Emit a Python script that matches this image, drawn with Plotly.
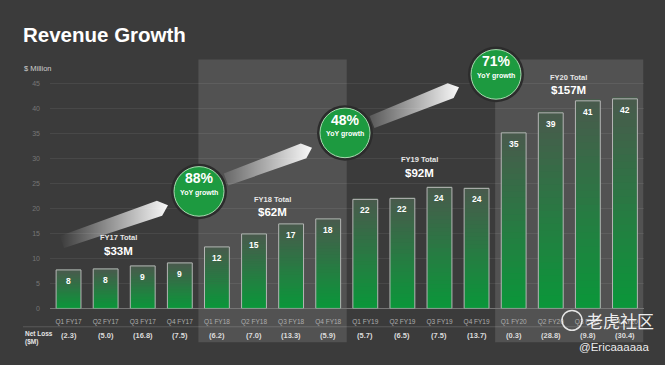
import numpy as np
import plotly.graph_objects as go

# ---------------- data ----------------
quarters = ["Q1 FY17", "Q2 FY17", "Q3 FY17", "Q4 FY17",
            "Q1 FY18", "Q2 FY18", "Q3 FY18", "Q4 FY18",
            "Q1 FY19", "Q2 FY19", "Q3 FY19", "Q4 FY19",
            "Q1 FY20", "Q2 FY20", "Q3 FY20", "Q4 FY20"]
revenue = [7.7, 7.9, 8.5, 9.1, 12.3, 14.9, 16.9, 17.9,
           21.8, 22.0, 24.2, 24.0, 35.1, 39.1, 41.5, 41.9]
revenue_labels = ["8", "8", "9", "9", "12", "15", "17", "18",
                  "22", "22", "24", "24", "35", "39", "41", "42"]
net_loss = ["(2.3)", "(5.0)", "(16.8)", "(7.5)", "(6.2)", "(7.0)", "(13.3)", "(5.9)",
            "(5.7)", "(6.5)", "(7.5)", "(13.7)", "(0.3)", "(28.8)", "(9.8)", "(30.4)"]
fy_names = ["FY17 Total", "FY18 Total", "FY19 Total", "FY20 Total"]
fy_totals = ["$33M", "$62M", "$92M", "$157M"]
yoy_growth = ["88%", "48%", "71%"]
y_ticks = [0, 5, 10, 15, 20, 25, 30, 35, 40, 45]

# ---------------- helpers ----------------
W, H = 665, 365
BG = "#3b3b3b"
SHADE = "#525252"
FONT = "Liberation Sans, Arial, Helvetica, sans-serif"


def PX(x):
    return x / W


def PY(y):
    return 1 - y / H


def note(x, y, text, size, color="white", xanchor="center", yanchor="middle", **kw):
    d = dict(x=PX(x), y=PY(y), xref="paper", yref="paper", text=text, showarrow=False,
             xanchor=xanchor, yanchor=yanchor, font=dict(size=size, color=color, family=kw.pop("family", FONT)))
    d.update(kw)
    return d


fig = go.Figure()

# gradient bars: stacked opaque slices from bright green (bottom) to grey-green (top)
N = 30
bot = np.array([10, 152, 58])
top = np.array([74, 90, 77])
vals = np.array(revenue)
for k in range(N):
    t = (k + 0.5) / N
    c = bot + (top - bot) * t
    fig.add_trace(go.Bar(
        x=quarters, y=vals / N * 1.25, base=vals * k / N,
        marker=dict(color=f"rgb({int(c[0])},{int(c[1])},{int(c[2])})", line=dict(width=0)),
        width=0.67, hoverinfo="skip", showlegend=False))

# outline bars (drawn over the gradient slices)
fig.add_trace(go.Bar(
    x=quarters, y=revenue,
    marker=dict(color="rgba(0,0,0,0)", line=dict(color="#b5b5b5", width=1)),
    width=0.67, showlegend=False))

# ---------------- arrows (pixel axes) ----------------
arrows = [((62, 244), (168, 207), 0.0), ((226, 181), (312, 149), 0.12), ((372, 123), (459, 88), 0.15)]
for (x0, y0), (x1, y1), a0 in arrows:
    u = np.array([x1 - x0, y1 - y0], float)
    u /= np.linalg.norm(u)
    n = np.array([-u[1], u[0]])
    t, hl = 13.0, 9.0
    p0 = np.array([x0, y0])
    p1 = np.array([x1, y1])
    hb = p1 - u * hl
    pts = [p0 + n * t / 2, hb + n * (t / 2 + 1.5), p1, hb - n * (t / 2 + 1.5), p0 - n * t / 2, p0 + n * t / 2]
    fig.add_trace(go.Scatter(
        x=[p[0] for p in pts], y=[p[1] for p in pts], xaxis="x2", yaxis="y2",
        mode="lines", line=dict(width=0), fill="toself",
        fillgradient=dict(type="horizontal",
                          colorscale=[[0, f"rgba(255,255,255,{a0})"], [1, "rgba(255,255,255,0.97)"]]),
        hoverinfo="skip", showlegend=False))

shapes = []
# shaded fiscal-year panels
for xa, xb in [(3.5, 7.5), (11.5, 15.5)]:
    shapes.append(dict(type="rect", xref="x", yref="paper", x0=xa, x1=xb,
                       y0=PY(345), y1=PY(60), fillcolor=SHADE, line=dict(width=0), layer="below"))
# separator line between quarter labels and net loss row
shapes.append(dict(type="line", xref="paper", yref="paper", x0=PX(23), x1=PX(643),
                   y0=PY(329.5), y1=PY(329.5), line=dict(color="rgba(255,255,255,0.16)", width=1)))

# YoY circles
circles = [(199, 193), (345, 134), (496, 75)]
annotations = []
for (cx, cy), g in zip(circles, yoy_growth):
    R = 28
    shapes.append(dict(type="circle", xref="paper", yref="paper",
                       x0=PX(cx - R), x1=PX(cx + R), y0=PY(cy + R), y1=PY(cy - R),
                       fillcolor="#2c2c2c", line=dict(width=0)))
    r = 25
    shapes.append(dict(type="circle", xref="paper", yref="paper",
                       x0=PX(cx - r), x1=PX(cx + r), y0=PY(cy + r), y1=PY(cy - r),
                       fillcolor="#1d9a40", line=dict(color="#a8dcb0", width=1)))
    annotations.append(note(cx, cy - 4, f"<b>{g}</b>", 14, yanchor="bottom", borderpad=0))
    annotations.append(note(cx, cy - 3.5, "<b>YoY growth</b>", 7, yanchor="top", borderpad=0))

# FY totals
total_pos = [(118, 246), (272, 207), (419, 167), (568, 84)]
for (tx, ty), nm, tot in zip(total_pos, fy_names, fy_totals):
    annotations.append(note(tx, ty - 0.5, f"<b>{nm}</b>", 7.5, "#e6e6e6", yanchor="bottom", borderpad=0))
    annotations.append(note(tx, ty, f"<b>{tot}</b>", 11.5, yanchor="top", borderpad=0))

# bar value labels
for q, v, lb in zip(quarters, revenue, revenue_labels):
    annotations.append(dict(x=q, y=v, xref="x", yref="y", text=f"<b>{lb}</b>", yshift=-11,
                            xanchor="center", yanchor="middle",
                            showarrow=False, font=dict(size=8.5, color="white", family=FONT)))

# net loss row
for q, nl in zip(quarters, net_loss):
    annotations.append(dict(x=q, y=PY(338), xref="x", yref="paper", text=f"<b>{nl}</b>",
                            xanchor="center", yanchor="middle", borderpad=0,
                            showarrow=False, font=dict(size=7.5, color="#dcdcdc", family=FONT)))
annotations.append(note(23, 341, "<b>Net Loss<br>($M)</b>", 6.5, "#e6e6e6", xanchor="left", align="left"))

# title and unit
annotations.append(note(21, 35, "<b>Revenue Growth</b>", 20.5, xanchor="left"))
annotations.append(note(22, 69, "$ Million", 7.5, "#cfcfcf", xanchor="left"))

# watermark
shapes.append(dict(type="circle", xref="paper", yref="paper", x0=PX(562), x1=PX(582),
                   y0=PY(333), y1=PY(313), line=dict(color="rgba(255,255,255,0.85)", width=1.5)))
annotations.append(note(585, 323, "老虎社区", 17, "rgba(255,255,255,0.92)", xanchor="left",
                        family="Noto Sans CJK SC", borderpad=0))
annotations.append(note(578, 350, "@Ericaaaaaa", 11.5, "rgba(255,255,255,0.92)", xanchor="left",
                        borderpad=0))

fig.update_layout(
    width=W, height=H, margin=dict(l=0, r=0, t=0, b=0),
    paper_bgcolor=BG, plot_bgcolor="rgba(0,0,0,0)",
    barmode="overlay",
    xaxis=dict(domain=[PX(50), PX(643.5)], anchor="y", type="category",
               categoryorder="array", categoryarray=quarters, range=[-0.5, 15.5],
               showgrid=False, showline=False, ticks="", ticklabelstandoff=8,
               tickfont=dict(size=6.5, color="#adadad", family=FONT), fixedrange=True),
    yaxis=dict(domain=[PY(311), PY(311 - 46 * 5.044)], anchor="x", range=[0, 46],
               tickvals=y_ticks, showgrid=True, gridcolor="rgba(255,255,255,0.07)", gridwidth=1,
               zeroline=True, zerolinecolor="#767676", zerolinewidth=1,
               ticks="", ticklabelstandoff=9,
               tickfont=dict(size=7, color="#767676", family=FONT), fixedrange=True),
    xaxis2=dict(domain=[0, 1], anchor="y2", range=[0, W], visible=False, fixedrange=True),
    yaxis2=dict(domain=[0, 1], anchor="x2", range=[H, 0], visible=False, fixedrange=True),
    shapes=shapes, annotations=annotations,
    font=dict(family=FONT),
)

fig.write_html("out.html", config={"displayModeBar": False},
               post_script="document.body.style.margin='0px';document.body.style.background='#3b3b3b';")
